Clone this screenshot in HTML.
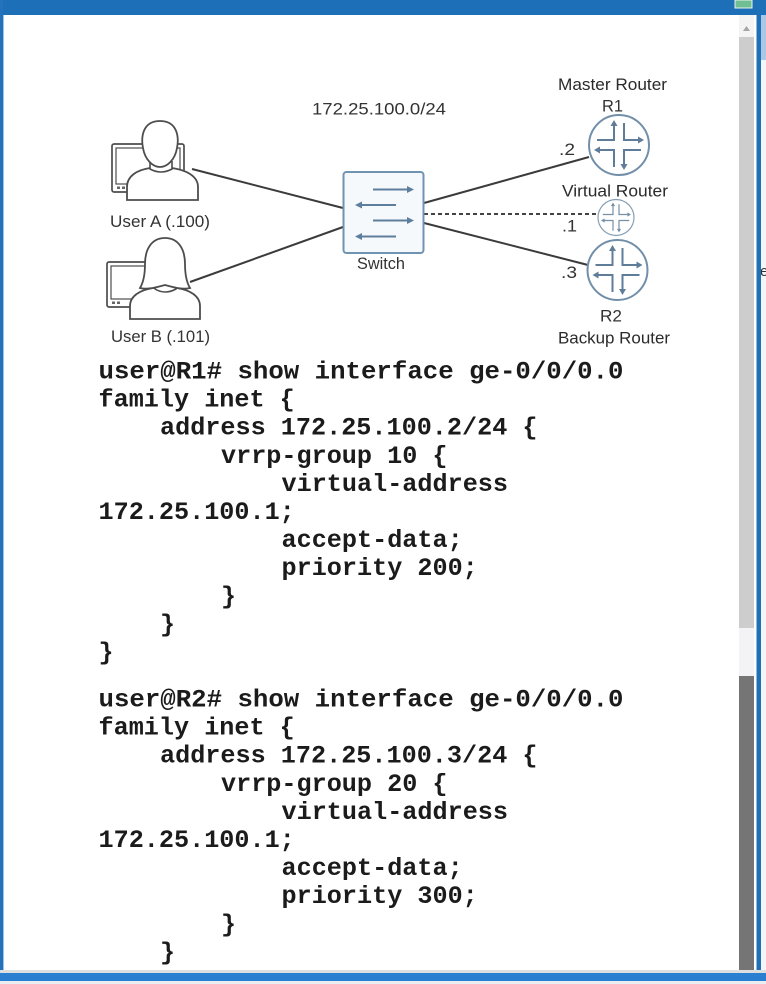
<!DOCTYPE html>
<html>
<head>
<meta charset="utf-8">
<style>
  html,body{margin:0;padding:0;background:#fff;}
  body{width:766px;height:984px;overflow:hidden;position:relative;}
  svg{display:block;}
  .lbl{font-family:"Liberation Sans",Arial,sans-serif;font-size:17px;fill:#333;}
  .code{font-family:"Liberation Mono","Courier New",monospace;font-size:25px;font-weight:bold;fill:#1b1b1b;}
</style>
</head>
<body>
<svg width="766" height="984" viewBox="0 0 766 984" xmlns="http://www.w3.org/2000/svg">
  <defs>
    <g id="rt">
      <circle cx="0" cy="0" r="30" fill="#fff" stroke="#728fa9" stroke-width="2"/>
      <g fill="none" stroke="#5f7d98" stroke-width="2">
        <path d="M-5,-20 V-5 H-22"/>
        <path d="M5,-22 V-5 H20"/>
        <path d="M-20,5 H-5 V22"/>
        <path d="M22,5 H5 V20"/>
      </g>
      <g fill="#5f7d98">
        <polygon points="-5,-25 -8.5,-19 -1.5,-19"/>
        <polygon points="25,-5 19,-8.5 19,-1.5"/>
        <polygon points="-25,5 -19,1.5 -19,8.5"/>
        <polygon points="5,25 1.5,19 8.5,19"/>
      </g>
    </g>
  </defs>

  <!-- window background -->
  <rect x="0" y="0" width="766" height="984" fill="#ffffff"/>

  <!-- outside strip at right -->
  <rect x="761" y="0" width="5" height="984" fill="#f3f5f7"/>
  <rect x="761" y="15" width="5" height="45" fill="#a9c8e6"/>
  <text x="760" y="276" font-family="Liberation Sans, sans-serif" font-size="15" fill="#333">e</text>

  <!-- title bar -->
  <rect x="0" y="0" width="766" height="15" fill="#1d6fb7"/>
  <rect x="735" y="0" width="17" height="8" fill="#6fbf93" stroke="#e8f3ec" stroke-width="1"/>

  <!-- left border -->
  <rect x="0" y="0" width="3" height="984" fill="#2472bb"/>
  <rect x="3" y="15" width="1" height="955" fill="#9fc1e2"/>

  <!-- right border -->
  <rect x="756.5" y="0" width="4.5" height="984" fill="#1f70b6"/>

  <!-- scrollbar -->
  <rect x="739" y="15" width="15" height="22" fill="#f4f4f4"/>
  <polygon points="743,31 750,31 746.5,26" fill="#a6a6a6"/>
  <rect x="739" y="37" width="15" height="591" fill="#cdcdcd"/>
  <rect x="739" y="628" width="15" height="48" fill="#f3f3f5"/>
  <rect x="739" y="676" width="15" height="294" fill="#757575"/>

  <!-- bottom -->
  <rect x="0" y="970" width="766" height="3" fill="#dcdee0"/>
  <rect x="0" y="973" width="766" height="8" fill="#2a7fd0"/>
  <rect x="0" y="981" width="766" height="3" fill="#eaeef2"/>

  <!-- ===== DIAGRAM ===== -->
  <g stroke="#3b3b3b" stroke-width="2" fill="none">
    <line x1="192" y1="169" x2="343" y2="208"/>
    <line x1="190" y1="282" x2="343" y2="227"/>
    <line x1="424" y1="203" x2="589" y2="157"/>
    <line x1="424" y1="223" x2="588" y2="265"/>
  </g>
  <line x1="424" y1="214" x2="598" y2="214" stroke="#444" stroke-width="2" stroke-dasharray="4 3"/>

  <!-- Switch -->
  <rect x="343.5" y="172" width="80" height="81" rx="3" fill="#f6f9fc" stroke="#7093b2" stroke-width="2"/>
  <g stroke="#5d7e9c" stroke-width="2">
    <line x1="373" y1="189.5" x2="408" y2="189.5"/>
    <line x1="361" y1="205" x2="396" y2="205"/>
    <line x1="373" y1="220.5" x2="408" y2="220.5"/>
    <line x1="361" y1="236.5" x2="396" y2="236.5"/>
  </g>
  <g fill="#5d7e9c">
    <polygon points="414,189.5 407,186 407,193"/>
    <polygon points="355,205 362,201.5 362,208.5"/>
    <polygon points="414,220.5 407,217 407,224"/>
    <polygon points="355,236.5 362,233 362,240"/>
  </g>

  <!-- Routers -->
  <use href="#rt" transform="translate(619,145)"/>
  <use href="#rt" transform="translate(617.5,270)"/>
  <g transform="translate(616,217.5) scale(0.6)" opacity="0.85">
    <use href="#rt"/>
  </g>

  <!-- User A -->
  <g stroke="#4d4d4d" stroke-width="1.7" fill="none">
    <rect x="112" y="144" width="72" height="48" rx="2"/>
    <rect x="116" y="148" width="64" height="36" stroke-width="1.2"/>
  </g>
  <rect x="117" y="186.5" width="3" height="2.5" fill="#666"/>
  <rect x="122" y="186.5" width="3" height="2.5" fill="#666"/>
  <path d="M127,200 L127,187 C127,176 137,170 150,168 L172,168 C186,170 198,176 198,187 L198,200 Z" fill="#fff" stroke="#4d4d4d" stroke-width="1.8"/>
  <path d="M150,161 L150,169 Q161,175 172,169 L172,161" fill="#fff" stroke="#4d4d4d" stroke-width="1.6"/>
  <path d="M160,121 C178,121 179,138 177,148 C175,160 167,167 160,167 C153,167 145,160 143,148 C141,138 142,121 160,121 Z" fill="#fff" stroke="#4d4d4d" stroke-width="1.8"/>

  <!-- User B -->
  <g stroke="#4d4d4d" stroke-width="1.7" fill="none">
    <rect x="107" y="262" width="72" height="45" rx="2"/>
    <rect x="111" y="266" width="64" height="33" stroke-width="1.2"/>
  </g>
  <rect x="112" y="301.5" width="3" height="2.5" fill="#666"/>
  <rect x="117" y="301.5" width="3" height="2.5" fill="#666"/>
  <path d="M130,319 L130,306 C130,296 140,290 153,288 L177,288 C190,290 200,296 200,306 L200,319 Z" fill="#fff" stroke="#4d4d4d" stroke-width="1.8"/>
  <path d="M155,281 L155,289 Q165,295 176,289 L176,281" fill="#fff" stroke="#4d4d4d" stroke-width="1.6"/>
  <path d="M165,238 C179,238 185,250 185,264 C185,276 187,283 190,288 C182,290 173,287 165,285 C157,287 148,290 140,288 C143,283 145,276 145,264 C145,250 151,238 165,238 Z" fill="#fff" stroke="#4d4d4d" stroke-width="1.8"/>

  <!-- labels -->
  <text class="lbl" x="312" y="114.5" textLength="134" lengthAdjust="spacingAndGlyphs">172.25.100.0/24</text>
  <text class="lbl" x="558" y="90" textLength="109" lengthAdjust="spacingAndGlyphs" style="fill:#2a2a2a">Master Router</text>
  <text class="lbl" x="602" y="111.5" textLength="21" lengthAdjust="spacingAndGlyphs">R1</text>
  <text class="lbl" x="559" y="155" textLength="16" lengthAdjust="spacingAndGlyphs">.2</text>
  <text class="lbl" x="562" y="196.5" textLength="106" lengthAdjust="spacingAndGlyphs" style="fill:#2a2a2a">Virtual Router</text>
  <text class="lbl" x="562" y="231.5" textLength="15" lengthAdjust="spacingAndGlyphs">.1</text>
  <text class="lbl" x="561" y="278" textLength="16" lengthAdjust="spacingAndGlyphs">.3</text>
  <text class="lbl" x="600" y="321.5" textLength="22" lengthAdjust="spacingAndGlyphs">R2</text>
  <text class="lbl" x="558" y="343.5" textLength="112" lengthAdjust="spacingAndGlyphs" style="fill:#2a2a2a">Backup Router</text>
  <text class="lbl" x="110" y="227" textLength="100" lengthAdjust="spacingAndGlyphs">User A (.100)</text>
  <text class="lbl" x="111" y="342" textLength="99" lengthAdjust="spacingAndGlyphs">User B (.101)</text>
  <text class="lbl" x="357" y="269" textLength="48" lengthAdjust="spacingAndGlyphs">Switch</text>

  <!-- ===== CODE block 1 ===== -->
  <text class="code" x="98.5" y="378.5" textLength="525" lengthAdjust="spacingAndGlyphs">user@R1# show interface ge-0/0/0.0</text>
  <text class="code" x="98.5" y="406.6" textLength="196.3" lengthAdjust="spacingAndGlyphs">family inet {</text>
  <text class="code" x="160" y="434.7" textLength="377.5" lengthAdjust="spacingAndGlyphs">address 172.25.100.2/24 {</text>
  <text class="code" x="221" y="462.8" textLength="226.5" lengthAdjust="spacingAndGlyphs">vrrp-group 10 {</text>
  <text class="code" x="281.5" y="490.9" textLength="226.5" lengthAdjust="spacingAndGlyphs">virtual-address</text>
  <text class="code" x="98.5" y="519" textLength="196.3" lengthAdjust="spacingAndGlyphs">172.25.100.1;</text>
  <text class="code" x="281.5" y="547.1" textLength="181.2" lengthAdjust="spacingAndGlyphs">accept-data;</text>
  <text class="code" x="281.5" y="575.2" textLength="196.3" lengthAdjust="spacingAndGlyphs">priority 200;</text>
  <text class="code" x="221" y="603.3">}</text>
  <text class="code" x="160" y="631.4">}</text>
  <text class="code" x="98.5" y="659.5">}</text>

  <!-- ===== CODE block 2 ===== -->
  <text class="code" x="98.5" y="706.5" textLength="525" lengthAdjust="spacingAndGlyphs">user@R2# show interface ge-0/0/0.0</text>
  <text class="code" x="98.5" y="734.6" textLength="196.3" lengthAdjust="spacingAndGlyphs">family inet {</text>
  <text class="code" x="160" y="762.7" textLength="377.5" lengthAdjust="spacingAndGlyphs">address 172.25.100.3/24 {</text>
  <text class="code" x="221" y="790.8" textLength="226.5" lengthAdjust="spacingAndGlyphs">vrrp-group 20 {</text>
  <text class="code" x="281.5" y="818.9" textLength="226.5" lengthAdjust="spacingAndGlyphs">virtual-address</text>
  <text class="code" x="98.5" y="847" textLength="196.3" lengthAdjust="spacingAndGlyphs">172.25.100.1;</text>
  <text class="code" x="281.5" y="875.1" textLength="181.2" lengthAdjust="spacingAndGlyphs">accept-data;</text>
  <text class="code" x="281.5" y="903.2" textLength="196.3" lengthAdjust="spacingAndGlyphs">priority 300;</text>
  <text class="code" x="221" y="931.3">}</text>
  <text class="code" x="160" y="959.4">}</text>
</svg>
</body>
</html>
